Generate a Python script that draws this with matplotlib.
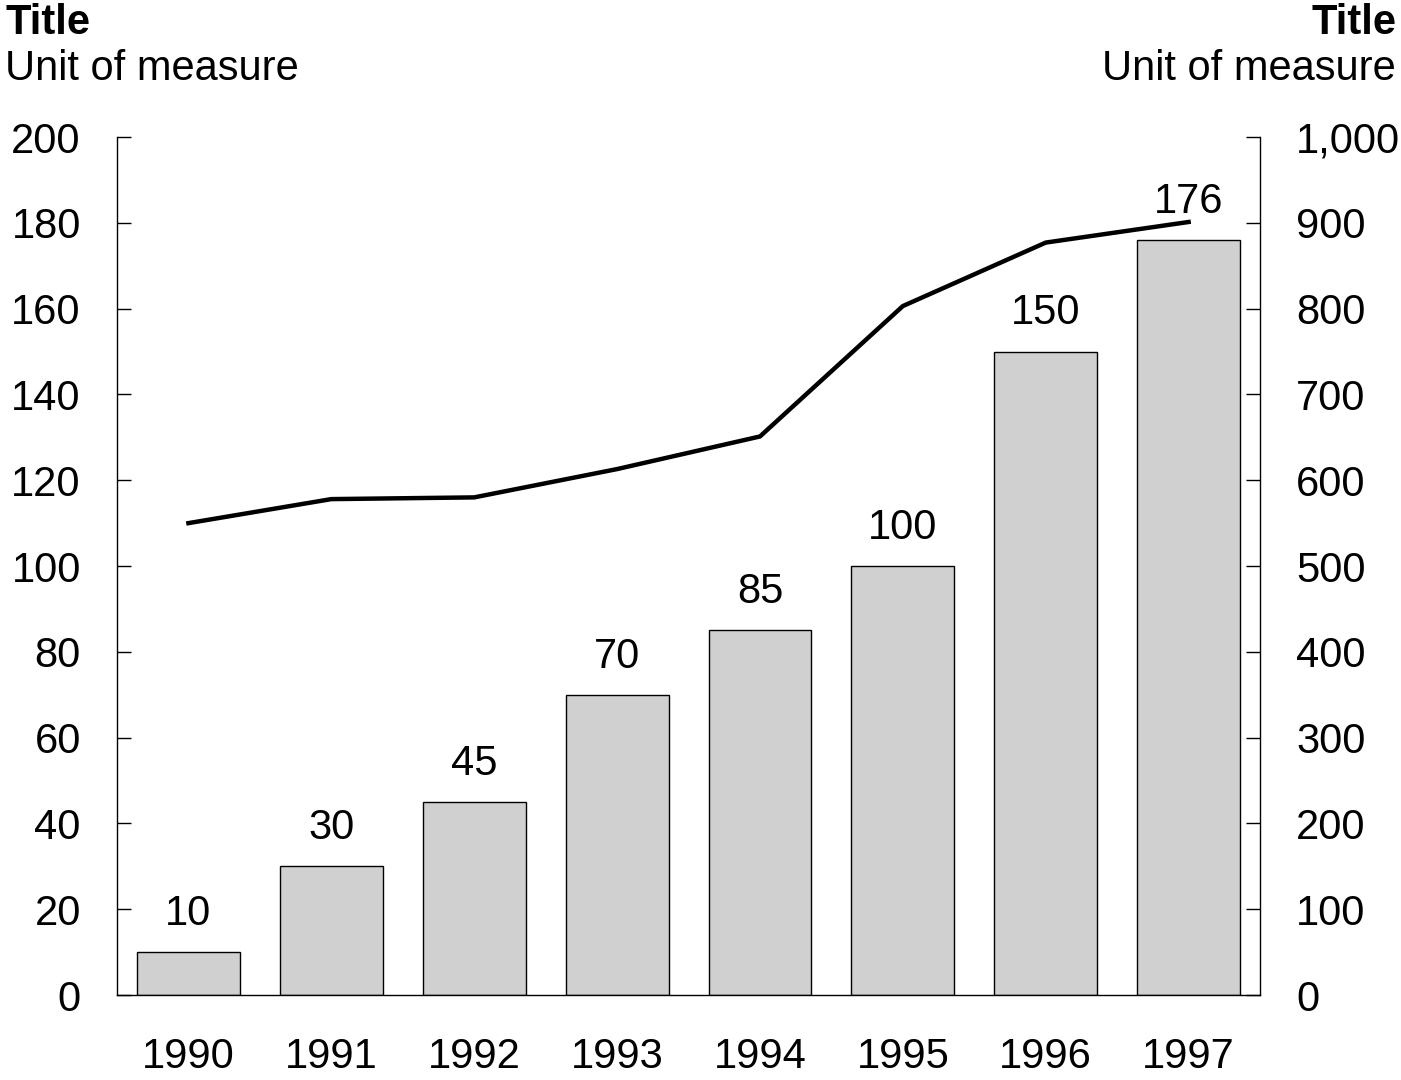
import numpy as np
import matplotlib.pyplot as plt
from matplotlib.ticker import FuncFormatter

plt.rcParams['font.family'] = ['Liberation Sans', 'DejaVu Sans']

years = ['1990', '1991', '1992', '1993', '1994', '1995', '1996', '1997']
bar_values = [10, 30, 45, 70, 85, 100, 150, 176]
line_values = [550, 578, 580, 613, 651, 803, 877, 901]

fs = 30

fig = plt.figure(figsize=(14.01, 10.8), dpi=100)
ax = fig.add_axes([0.0835, 0.0787, 0.8159, 0.7944])
ax2 = ax.twinx()

x = np.arange(len(years))
bars = ax.bar(x, bar_values, width=0.72, color='#d0d0d0', edgecolor='black', linewidth=1.0, zorder=2)
for xi, v in zip(x, bar_values):
    ax.annotate(str(v), (xi, v), xytext=(0, 13), textcoords='offset points',
                ha='center', va='bottom', fontsize=fs)

ax2.plot(x, line_values, color='black', linewidth=3.2, zorder=3)

ax.set_xlim(-0.5, len(years) - 0.5)
ax.set_ylim(0, 200)
ax.set_yticks(np.arange(0, 201, 20))
ax2.set_ylim(0, 1000)
ax2.set_yticks(np.arange(0, 1001, 100))
ax2.yaxis.set_major_formatter(FuncFormatter(lambda v, p: f'{int(v):,}'))

ax.set_xticks(x)
ax.set_xticklabels(years)

for a in (ax, ax2):
    a.spines['top'].set_visible(False)
    for s in a.spines.values():
        s.set_linewidth(1.0)
ax.spines['right'].set_visible(False)
ax2.spines['left'].set_visible(False)
ax2.spines['bottom'].set_visible(False)

ax.tick_params(axis='y', direction='in', length=10, width=1.0, pad=26, labelsize=fs)
ax.tick_params(axis='x', length=0, pad=30, labelsize=fs)
ax2.tick_params(axis='y', direction='in', length=10, width=1.0, pad=26, labelsize=fs)

fig.text(5 / 1401, 1 - 3 / 1080, 'Title', fontsize=fs, fontweight='bold', ha='left', va='top')
fig.text(5 / 1401, 1 - 49 / 1080, 'Unit of measure', fontsize=fs, ha='left', va='top')
fig.text(1 - 5 / 1401, 1 - 3 / 1080, 'Title', fontsize=fs, fontweight='bold', ha='right', va='top')
fig.text(1 - 5 / 1401, 1 - 49 / 1080, 'Unit of measure', fontsize=fs, ha='right', va='top')

fig.savefig('out.png', dpi=100)
